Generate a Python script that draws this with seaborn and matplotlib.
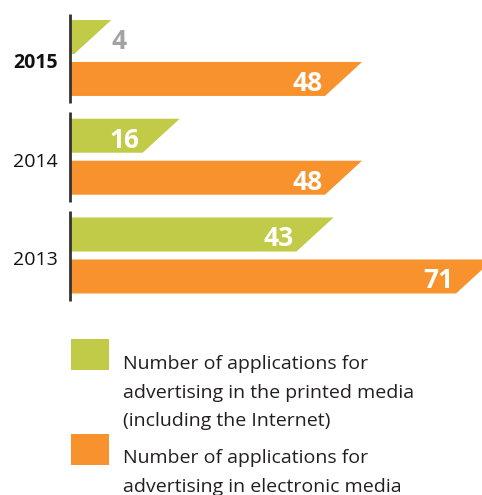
import matplotlib
matplotlib.use('Agg')
import numpy as np
import pandas as pd
import matplotlib.pyplot as plt
import matplotlib.transforms as mtransforms
import seaborn as sns
from matplotlib.patches import Polygon, Rectangle

# data
years = ['2015', '2014', '2013']
printed = [4, 16, 43]
electronic = [48, 48, 71]
media = ['printed', 'electronic']
legend_lines = [
    ['Number of applications for',
     'advertising in the printed media',
     '(including the Internet)'],
    ['Number of applications for',
     'advertising in electronic media'],
]

green = '#c1cb48'
orange = '#f7922d'

plt.rcParams['font.family'] = ['Open Sans', 'DejaVu Sans']

df = pd.DataFrame({
    'year': years * 2,
    'count': printed + electronic,
    'media': [media[0]] * 3 + [media[1]] * 3,
})

W, H = 482, 495
fig = plt.figure(figsize=(W / 100, H / 100), dpi=100)
ax = fig.add_axes([70 / W, 1 - 310 / H, 412 / W, 310 / H])

sns.barplot(data=df, y='year', x='count', hue='media', order=years,
            hue_order=media, palette=[green, orange], orient='h',
            width=0.85, gap=0.19, saturation=1, legend=False, ax=ax)

# slanted right ends
slant = 3.25
for cont in ax.containers:
    for bar in cont:
        y0 = bar.get_y()
        h = bar.get_height()
        w = bar.get_width()
        pts = [(0, y0), (w + slant, y0), (max(w - slant, 0), y0 + h), (0, y0 + h)]
        ax.add_patch(Polygon(pts, closed=True, facecolor=bar.get_facecolor(),
                             edgecolor='none'))
        bar.set_visible(False)
        yb = y0 + h / 2 + 0.12  # baseline so the digits sit centred
        if w - slant > 8:
            ax.text(w - slant - 0.5, yb, f'{w:.0f}', ha='right', va='baseline',
                    color='white', fontsize=19, fontweight='bold')
        else:
            ax.text(w + slant + 0.1, yb, f'{w:.0f}', ha='left', va='baseline',
                    color='#a3a3a3', fontsize=19, fontweight='bold')

# axis line segments per year
for i in range(len(years)):
    ax.plot([0, 0], [i - 0.45, i + 0.46], color='#333333', lw=2,
            clip_on=False, solid_capstyle='butt')

ax.set_xlim(0, 72.3)
ax.set_ylim(2.552, -0.587)
ax.set_xticks([])
ax.set_xlabel('')
ax.set_ylabel('')
for s in ax.spines.values():
    s.set_visible(False)
ax.tick_params(axis='y', length=0, pad=9, labelsize=14, labelcolor='#111111')
shift = mtransforms.ScaledTranslation(0, -3 / 100, fig.dpi_scale_trans)
for lab in ax.get_yticklabels():
    lab.set_transform(lab.get_transform() + shift)
ax.get_yticklabels()[0].set_fontweight('bold')

# legend
boxes = [(339, green), (434, orange)]
baselines = [[369, 397.5, 426], [463, 491.5]]
for (top, col), lines, bls in zip(boxes, legend_lines, baselines):
    fig.add_artist(Rectangle((71 / W, 1 - (top + 31) / H), 38 / W, 31 / H,
                             transform=fig.transFigure, facecolor=col,
                             edgecolor='none'))
    for line, b in zip(lines, bls):
        fig.text(123 / W, 1 - b / H, line, fontsize=14, color='#231f20',
                 ha='left', va='baseline')

fig.savefig('out.png', dpi=100)
